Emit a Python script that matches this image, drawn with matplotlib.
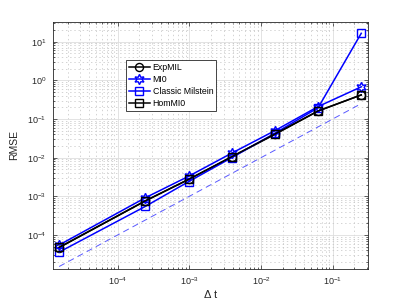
import numpy as np
import matplotlib
matplotlib.use("Agg")
import matplotlib.pyplot as plt
from matplotlib.ticker import LogLocator, NullFormatter, FixedLocator

plt.rcParams['font.family'] = ['Liberation Sans', 'DejaVu Sans']
plt.rcParams['mathtext.default'] = 'regular'
plt.rcParams['lines.scale_dashes'] = False

dt = [4.0**-8, 4.0**-6, 4.0**-5, 4.0**-4, 4.0**-3, 4.0**-2, 4.0**-1]
expmil = [4.7e-5, 7.6e-4, 2.73e-3, 1.05e-2, 4.0e-2, 0.16, 0.42]
mi0 = [5.5e-5, 9.2e-4, 3.3e-3, 1.31e-2, 5.0e-2, 0.21, 0.68]
classic = [3.6e-5, 5.5e-4, 2.4e-3, 1.0e-2, 4.3e-2, 0.195, 16.5]
hommi0 = [4.8e-5, 7.7e-4, 2.75e-3, 1.06e-2, 4.1e-2, 0.162, 0.42]
ref = dt
xticks = [1e-4, 1e-3, 1e-2, 1e-1]
yticks = [1e-4, 1e-3, 1e-2, 1e-1, 1e0, 1e1]

labels = ['ExpMIL', 'MI0', 'Classic Milstein', 'HomMI0']

fig = plt.figure(figsize=(4.07, 3.02), dpi=100)
ax = fig.add_axes([53.3/407, 1-268.7/302, (367.7-53.3)/407, (268.7-22.3)/302])

dark = (0.15, 0.15, 0.15)
ms = 5.8
lw = 1.1
star6 = (6, 1, 0)

ax.plot(dt, expmil, color='k', marker='o', ms=ms, mfc='none', mec='k', lw=lw, label=labels[0])
ax.plot(dt, mi0, color='b', marker=star6, ms=ms+1.6, mfc='none', mec='b', lw=lw, label=labels[1])
ax.plot(dt, classic, color='b', marker='s', ms=ms, mfc='none', mec='b', lw=lw, label=labels[2])
ax.plot(dt, hommi0, color='k', marker='s', ms=ms, mfc='none', mec='k', lw=lw, label=labels[3])
ax.plot(dt, ref, color=(0.35, 0.35, 1.0), ls=(0, (4.5, 3)), lw=0.7)

ax.set_xscale('log')
ax.set_yscale('log')
ax.set_xlim(1.265e-5, 0.3076)
ax.set_ylim(1.34e-5, 10**1.502)

ax.xaxis.set_major_locator(FixedLocator(xticks))
ax.yaxis.set_major_locator(FixedLocator(yticks))
ax.xaxis.set_minor_locator(LogLocator(base=10, subs=np.arange(2, 10), numticks=100))
ax.yaxis.set_minor_locator(LogLocator(base=10, subs=np.arange(2, 10), numticks=100))
ax.xaxis.set_minor_formatter(NullFormatter())
ax.yaxis.set_minor_formatter(NullFormatter())

ax.grid(True, which='major', color=(0.87, 0.87, 0.87), lw=0.6, ls='-')
ax.grid(True, which='minor', color=(0.76, 0.76, 0.76), lw=0.5, ls=(0, (1, 2)))
ax.set_axisbelow(True)

ax.tick_params(which='both', direction='in', top=True, right=True, colors=dark,
               labelsize=6.5, width=0.5)
ax.tick_params(which='major', length=3, pad=5)
ax.tick_params(which='minor', length=1.6)
for s in ax.spines.values():
    s.set_color(dark)
    s.set_linewidth(0.6)

ax.set_xlabel('Δ t', fontsize=8, color=dark, labelpad=2)
ax.set_ylabel('RMSE', fontsize=7.5, color=dark, labelpad=6)

leg = ax.legend(loc='upper left', bbox_to_anchor=(0.231, 0.847), borderaxespad=0,
                fontsize=6.3, handlelength=2.4, handletextpad=0.3, labelspacing=0.35,
                borderpad=0.35, fancybox=False, framealpha=1, edgecolor=dark)
leg.get_frame().set_linewidth(0.6)

fig.savefig('out.png', dpi=100)
